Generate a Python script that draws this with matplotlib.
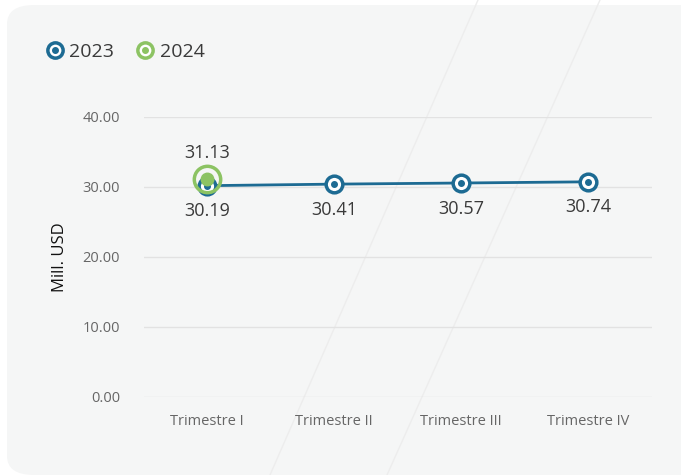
import matplotlib.pyplot as plt
from matplotlib.patches import FancyBboxPatch
from matplotlib.lines import Line2D

# data
quarters = ["Trimestre I", "Trimestre II", "Trimestre III", "Trimestre IV"]
values_2023 = [30.19, 30.41, 30.57, 30.74]
values_2024 = [31.13]
yticks = [0, 10, 20, 30, 40]

BLUE = "#1d6b93"
GREEN = "#8cc363"
TEXT = "#3a3a3a"
plt.rcParams['font.family'] = ['Open Sans', 'DejaVu Sans']

W, H = 681, 475
fig = plt.figure(figsize=(6.81, 4.75), dpi=100)
fig.patch.set_facecolor("white")

# rounded light panel
panel = FancyBboxPatch((7 / W, 0.0), 1.2, 1 - 5 / H, boxstyle="round,pad=0,rounding_size=0.04",
                       transform=fig.transFigure, facecolor="#f5f6f6", edgecolor="none", zorder=-2)
fig.add_artist(panel)
# faint decorative strokes
for (xb, xt) in [(270, 478), (387, 600)]:
    fig.add_artist(Line2D([xb / W, xt / W], [0.0, 1.0], transform=fig.transFigure,
                          color="#ededed", lw=1.0, zorder=-1))

ax = fig.add_axes([143.5 / W, 1 - 397 / H, 508 / W, 280 / H])
ax.set_facecolor("none")
x = list(range(len(quarters)))

ax.plot(x, values_2023, color=BLUE, lw=2, zorder=3)
ax.plot(x, values_2023, ls="none", marker="o", ms=12, mfc="white", mec=BLUE, mew=2.5, zorder=4)
ax.plot(x, values_2023, ls="none", marker="o", ms=4, color=BLUE, zorder=5)

x24 = x[:len(values_2024)]
ax.plot(x24, values_2024, ls="none", marker="o", ms=19, mfc="none", mec=GREEN, mew=2.5, zorder=6)
ax.plot(x24, values_2024, ls="none", marker="o", ms=9, color=GREEN, zorder=7)

for xi, v in zip(x, values_2023):
    ax.annotate(f"{v:.2f}", (xi, v), xytext=(0, -12), textcoords="offset points",
                ha="center", va="top", fontsize=13, color=TEXT)
for xi, v in zip(x24, values_2024):
    ax.annotate(f"{v:.2f}", (xi, v), xytext=(0, 12), textcoords="offset points",
                ha="center", va="bottom", fontsize=13, color=TEXT)

ax.set_xlim(-0.5, 3.5)
ax.set_ylim(0, 40)
ax.set_yticks(yticks)
ax.set_yticklabels([f"{t:.2f}" for t in yticks])
ax.set_xticks(x)
ax.set_xticklabels(quarters)
ax.tick_params(axis="both", length=0, labelsize=10.5, labelcolor="#666666")
ax.tick_params(axis="y", pad=17)
ax.tick_params(axis="x", pad=12)
ax.grid(axis="y", color="#e2e2e2", lw=1)
ax.set_axisbelow(True)
for s in ax.spines.values():
    s.set_visible(False)
ax.set_ylabel("Mill. USD", fontsize=12, color="#111111", labelpad=10)

# legend: ring + centre dot
handles = [
    (Line2D([], [], ls="none", marker="o", ms=11, mfc="white", mec=BLUE, mew=2.5),
     Line2D([], [], ls="none", marker="o", ms=4, color=BLUE)),
    (Line2D([], [], ls="none", marker="o", ms=11, mfc="white", mec=GREEN, mew=2.5),
     Line2D([], [], ls="none", marker="o", ms=4, color=GREEN)),
]
leg = fig.legend(handles, ["2023", "2024"], loc="center left", bbox_to_anchor=(45 / W, 1 - 52 / H),
                 ncol=2, frameon=False, fontsize=14, handlelength=1.0, handletextpad=0.25,
                 columnspacing=1.1, borderaxespad=0, borderpad=0)
for t in leg.get_texts():
    t.set_color(TEXT)

fig.savefig("out.png", dpi=100, facecolor=fig.get_facecolor())
